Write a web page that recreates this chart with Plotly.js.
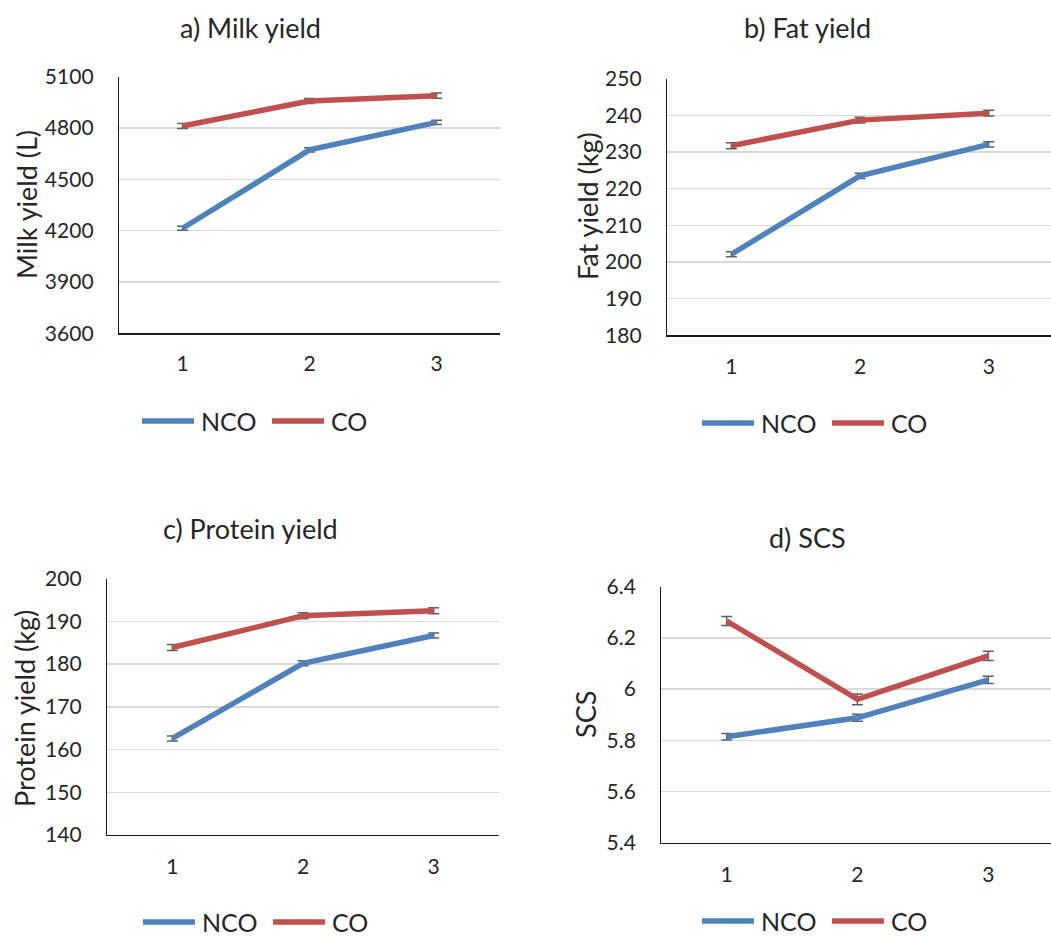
<!DOCTYPE html>
<html>
<head>
<meta charset="utf-8">
<script src="https://cdn.plot.ly/plotly-3.0.1.min.js"></script>
<style>
  html, body { margin: 0; padding: 0; background: #fff; overflow: hidden; }
  #chart { width: 1051px; height: 939px; }
</style>
</head>
<body>
<div id="chart"></div>
<script>
// ---- Data ----
const categories = [1, 2, 3];
const tickLabels = ['1', '2', '3'];
const seriesNames = ['NCO', 'CO'];

const milkNCO = [4214, 4672, 4833];
const milkCO = [4812, 4958, 4989];
const milkNCOErr = [12, 12, 12];
const milkCOErr = [15, 15, 15];

const fatNCO = [202.1, 223.5, 232.1];
const fatCO = [231.7, 238.7, 240.6];
const fatNCOErr = [0.7, 0.7, 0.7];
const fatCOErr = [0.8, 0.8, 0.8];

const protNCO = [162.6, 180.2, 186.7];
const protCO = [183.9, 191.3, 192.5];
const protNCOErr = [0.6, 0.6, 0.6];
const protCOErr = [0.7, 0.7, 0.7];

const scsNCO = [5.814, 5.888, 6.036];
const scsCO = [6.266, 5.960, 6.130];
const scsNCOErr = [0.013, 0.014, 0.014];
const scsCOErr = [0.018, 0.021, 0.018];

const panelTitles = ['a) Milk yield', 'b) Fat yield', 'c) Protein yield', 'd) SCS'];
const yTitles = ['Milk yield (L)', 'Fat yield (kg)', 'Protein yield (kg)', 'SCS'];

// ---- Styling ----
const FONT = 'Lato, "Open Sans", sans-serif';
const TXT = '#262626';
const BLUE = '#4F81BD';
const RED = '#C0504D';
const ERRC = '#606060';
const seriesColors = [BLUE, RED];

const panels = [
  { nco: milkNCO, co: milkCO, ncoE: milkNCOErr, coE: milkCOErr, xa: 'x', ya: 'y' },
  { nco: fatNCO, co: fatCO, ncoE: fatNCOErr, coE: fatCOErr, xa: 'x2', ya: 'y2' },
  { nco: protNCO, co: protCO, ncoE: protNCOErr, coE: protCOErr, xa: 'x3', ya: 'y3' },
  { nco: scsNCO, co: scsCO, ncoE: scsNCOErr, coE: scsCOErr, xa: 'x4', ya: 'y4' }
];

const traces = [];
panels.forEach(p => {
  [[seriesNames[0], p.nco, p.ncoE, BLUE], [seriesNames[1], p.co, p.coE, RED]].forEach(([name, vals, errs, col]) => {
    traces.push({
      type: 'scatter', mode: 'lines', name: name,
      x: categories, y: vals,
      xaxis: p.xa, yaxis: p.ya,
      line: { color: col, width: 5.5 },
      error_y: { type: 'data', array: errs, visible: true, color: ERRC, thickness: 1.5, width: 5.5 },
      showlegend: false
    });
  });
});

function xAxis(dom, anchor, rEnd, standoff) {
  return {
    domain: dom, anchor: anchor, range: [0.5, rEnd],
    tickvals: categories, ticktext: tickLabels,
    showgrid: false, zeroline: false, showline: true, linecolor: '#1a1a1a', linewidth: 1.2,
    ticks: '', ticklabelstandoff: standoff,
    tickfont: { family: FONT, size: 21, color: TXT }, fixedrange: true
  };
}
function yAxis(dom, anchor, range, dtick) {
  return {
    domain: dom, anchor: anchor, range: range, dtick: dtick, tick0: range[0],
    showgrid: true, gridcolor: '#D9D9D9', gridwidth: 1.5,
    zeroline: false, showline: true, linecolor: '#1a1a1a', linewidth: 1.2,
    ticks: '', ticklabelstandoff: 20,
    tickfont: { family: FONT, size: 21, color: TXT }, fixedrange: true
  };
}

const W = 1051, H = 939;
const px = v => v / W;
const py = v => 1 - v / H;

const annotations = [];
const shapes = [];
const titlePos = [[250, 27], [807, 28], [250, 528], [807, 537]];
titlePos.forEach((p, i) => annotations.push({
  text: panelTitles[i], xref: 'paper', yref: 'paper', x: px(p[0]), y: py(p[1]),
  xanchor: 'center', yanchor: 'middle', showarrow: false,
  font: { family: FONT, size: 27, color: TXT }
}));
const yTitlePos = [[26, 205], [587, 206], [24, 709], [585, 715]];
yTitlePos.forEach((p, i) => annotations.push({
  text: yTitles[i], xref: 'paper', yref: 'paper', x: px(p[0]), y: py(p[1]),
  xanchor: 'center', yanchor: 'middle', showarrow: false, textangle: -90,
  font: { family: FONT, size: 27, color: TXT }
}));

// Legends: [left of first line, y centre] per panel
const legendPos = [[140, 421], [700, 423], [141, 922], [700, 921]];
legendPos.forEach(([lx, ly]) => {
  [[0, 56, 60], [130, 186, 190]].forEach(([a, b, t], k) => {
    shapes.push({
      type: 'line', xref: 'paper', yref: 'paper',
      x0: px(lx + a + 2), x1: px(lx + b - 2), y0: py(ly), y1: py(ly),
      line: { color: seriesColors[k], width: 5.5 }
    });
    annotations.push({
      text: seriesNames[k], xref: 'paper', yref: 'paper', x: px(lx + t - 1), y: py(ly),
      xanchor: 'left', yanchor: 'middle', showarrow: false,
      font: { family: FONT, size: 25, color: TXT }
    });
  });
});

const layout = {
  width: W, height: H,
  margin: { l: 0, r: 0, t: 0, b: 0, autoexpand: false },
  paper_bgcolor: '#ffffff', plot_bgcolor: '#ffffff',
  font: { family: FONT, color: TXT },
  showlegend: false,
  xaxis: xAxis([px(119), px(500)], 'y', 3.5, 11),
  yaxis: yAxis([py(333.3), py(76.7)], 'x', [3600, 5100], 300),
  xaxis2: xAxis([px(667), 1], 'y2', 3.484, 12),
  yaxis2: yAxis([py(335.3), py(78.7)], 'x2', [180, 250], 10),
  xaxis3: xAxis([px(107), px(499)], 'y3', 3.5, 13),
  yaxis3: yAxis([py(835), py(578.7)], 'x3', [140, 200], 10),
  xaxis4: xAxis([px(661.3), 1], 'y4', 3.48, 13),
  yaxis4: yAxis([py(842.7), py(586.7)], 'x4', [5.4, 6.4], 0.2),
  annotations: annotations,
  shapes: shapes
};

Plotly.newPlot('chart', traces, layout, { staticPlot: true, displayModeBar: false });
</script>
</body>
</html>
